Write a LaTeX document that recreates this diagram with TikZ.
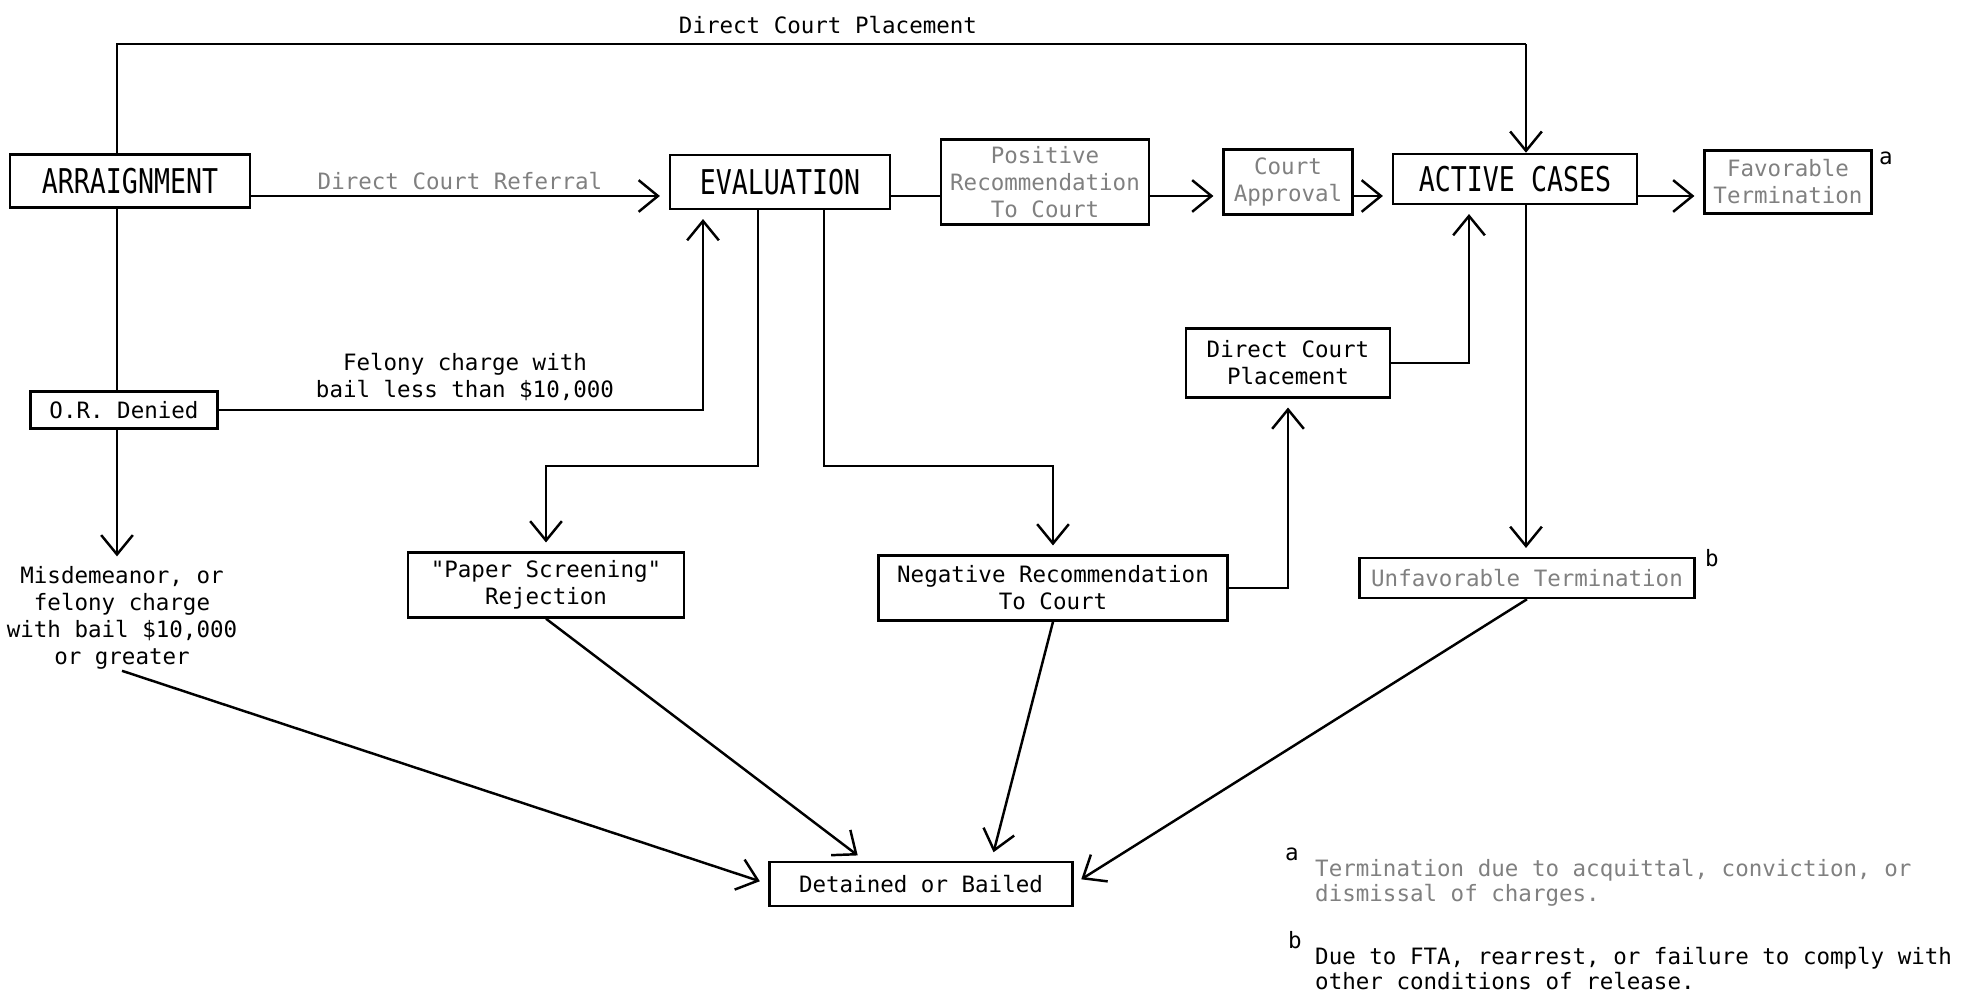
\documentclass[tikz,border=0pt]{standalone}
\usepackage{fontspec}
\usepackage{tikz}
\usetikzlibrary{arrows.meta}
\newfontfamily\typefont{DejaVu Sans Mono}
\newfontfamily\bigtypefont[FakeStretch=0.78]{DejaVu Sans Mono}
\tikzset{>={Straight Barb[length=5.5pt,width=9pt]}}

\begin{document}
\begin{tikzpicture}[x=0.01cm, y=-0.01cm, line width=0.7pt]
  % units are pixels of the scan, y runs down
  \tikzstyle{every node}=[font=\typefont\fontsize{6.4}{7.7}\selectfont, align=center, inner sep=0pt]
  \tikzstyle{box}=[draw]
  \tikzstyle{big}=[font=\bigtypefont\fontsize{9.7}{11}\selectfont]
  \tikzstyle{faint}=[text=black!50]
  \tikzstyle{flow}=[->, shorten >=2.5pt]
  \tikzstyle{note}=[font=\typefont\fontsize{6.4}{6.1}\selectfont, align=left, anchor=north west]
  \useasboundingbox (0,0) rectangle (1981,998);

  \node[box, big, minimum width=2.4cm, minimum height=0.53cm] (arr) at (130,181) {ARRAIGNMENT};
  \node[box, big, minimum width=2.2cm, minimum height=0.54cm] (eval) at (780,182) {EVALUATION};
  \node[box, faint, minimum width=2.08cm, minimum height=0.85cm] (pos) at (1045,182) {Positive\\Recommendation\\To Court};
  \node[box, faint, minimum width=1.29cm, minimum height=0.65cm] (appr) at (1288,182) {Court\\Approval};
  \node[box, big, minimum width=2.44cm, minimum height=0.5cm] (act) at (1515,179) {ACTIVE CASES};
  \node[box, faint, minimum width=1.67cm, minimum height=0.63cm] (fav) at (1788,182) {Favorable\\Termination};
  \node[box, minimum width=2.04cm, minimum height=0.69cm] (dcp) at (1288,363) {Direct Court\\Placement};
  \node[box, minimum width=1.87cm, minimum height=0.37cm] (ord) at (124,410) {O.R. Denied};
  \node[box, minimum width=2.76cm, minimum height=0.65cm] (paper) at (546,585) {"Paper Screening"\\Rejection};
  \node[box, minimum width=3.49cm, minimum height=0.65cm] (neg) at (1053,588) {Negative Recommendation\\To Court};
  \node[box, faint, minimum width=3.35cm, minimum height=0.4cm] (unfav) at (1527,578) {Unfavorable Termination};
  \node[box, minimum width=3.03cm, minimum height=0.44cm] (det) at (921,884) {Detained or Bailed};
  \node (misd) at (122,618) {Misdemeanor, or\\felony charge\\with bail \$10,000\\or greater};

  \coordinate (jArr) at (117,44);
  \coordinate (jAct) at (1526,44);
  \coordinate (row) at (0,196);
  \coordinate (jEvL) at (758,466);
  \coordinate (jEvR) at (824,466);
  \coordinate (jOr) at (703,0);
  \coordinate (jUp) at (1469,0);

  \draw (arr.north -| jArr) -- (jArr) -- (jAct);
  \draw[->] (jAct) -- (act.north -| jAct);
  \node at (828,25) {Direct Court Placement};

  \draw[flow] (arr.east |- row) -- (eval.west |- row)
    node[midway, above=1.5pt, faint] {Direct Court Referral};
  \draw (eval.east |- row) -- (pos.west |- row);
  \draw[flow] (pos.east |- row) -- (appr.west |- row);
  \draw[flow] (appr.east |- row) -- (act.west |- row);
  \draw[flow] (act.east |- row) -- (fav.west |- row);
  \node at (1886,158) {a};

  \draw[flow] (act.south -| jAct) -- (unfav.north -| jAct);
  \node at (1712,558) {b};
  \draw[flow] (dcp.east) -| (act.south -| jUp);
  \draw[flow] (neg.east) -| (dcp.south);

  \draw[flow] (eval.south -| jEvL) -- (jEvL) -| (paper.north);
  \draw[flow] (eval.south -| jEvR) -- (jEvR) -| (neg.north);

  \draw[flow] (ord.east) -| (eval.south -| jOr);
  \node at (465,377) {Felony charge with\\bail less than \$10,000};
  \draw (arr.south -| jArr) -- (ord.north -| jArr);
  \draw[flow] (ord.south -| jArr) -- (misd.north -| jArr);

  \draw[flow] (misd.south) -- (det.west);
  \draw[flow] (paper.south) -- ([xshift=-16pt]det.north);
  \draw[flow] (neg.south) -- ([xshift=20pt]det.north);
  \draw[flow] (unfav.south) -- (det.east);

  % footnotes
  \node (markA) at (1292,854) {a};
  \node[note, faint] (fnA) at (1314,858) {Termination due to acquittal, conviction, or\\dismissal of charges.};
  \node (markB) at (1295,940) {b};
  \node[note] (fnB) at (1314,946) {Due to FTA, rearrest, or failure to comply with\\other conditions of release.};
\end{tikzpicture}
\end{document}
